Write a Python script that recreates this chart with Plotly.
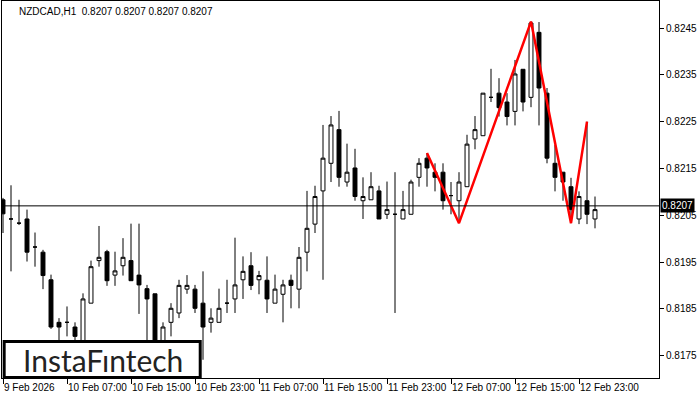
import plotly.graph_objects as go

# ---- data (NZDCAD H1) ----
bar_index = list(range(75))
opens = [0.82083, 0.82042, 0.82033, 0.82042, 0.81982, 0.81971, 0.81912, 0.81821, 0.81821, 0.81811,
         0.81779, 0.81862, 0.81953, 0.81972, 0.81922, 0.81942, 0.81953, 0.81922, 0.81893, 0.81882,
         0.81766, 0.81821, 0.81841, 0.81892, 0.81892, 0.81862, 0.81821, 0.81821, 0.81862, 0.81871,
         0.81912, 0.81942, 0.81912, 0.81911, 0.81862, 0.81881, 0.81911, 0.81892, 0.81971, 0.82031,
         0.82102, 0.82161, 0.82233, 0.82121, 0.82151, 0.82081, 0.82083, 0.82102, 0.82052, 0.82052,
         0.82042, 0.82052, 0.82131, 0.82172, 0.82142, 0.82142, 0.82092, 0.82081, 0.82111, 0.82213,
         0.82220, 0.82302, 0.82311, 0.82292, 0.82272, 0.82362, 0.82302, 0.82441, 0.82311, 0.82161,
         0.82142, 0.82111, 0.82042, 0.82081, 0.82042]
highs = [0.82087, 0.82114, 0.82083, 0.82062, 0.82013, 0.81976, 0.81923, 0.81830, 0.81855, 0.81821,
         0.81883, 0.81953, 0.82027, 0.81976, 0.81972, 0.82001, 0.82032, 0.82032, 0.81901, 0.81882,
         0.81821, 0.81862, 0.81912, 0.81922, 0.81901, 0.81930, 0.81851, 0.81893, 0.81912, 0.82002,
         0.81962, 0.81971, 0.81931, 0.81962, 0.81923, 0.81912, 0.81923, 0.81982, 0.82102, 0.82113,
         0.82243, 0.82262, 0.82273, 0.82203, 0.82192, 0.82131, 0.82142, 0.82113, 0.82122, 0.82142,
         0.82102, 0.82126, 0.82172, 0.82183, 0.82161, 0.82161, 0.82121, 0.82142, 0.82222, 0.82262,
         0.82311, 0.82363, 0.82343, 0.82311, 0.82382, 0.82362, 0.82464, 0.82463, 0.82322, 0.82200,
         0.82142, 0.82130, 0.82101, 0.82250, 0.82090]
lows = [0.82012, 0.81930, 0.82029, 0.81951, 0.81940, 0.81892, 0.81807, 0.81773, 0.81791, 0.81762,
        0.81766, 0.81862, 0.81940, 0.81899, 0.81899, 0.81921, 0.81910, 0.81839, 0.81758, 0.81749,
        0.81752, 0.81791, 0.81830, 0.81882, 0.81841, 0.81741, 0.81799, 0.81821, 0.81841, 0.81841,
        0.81871, 0.81890, 0.81881, 0.81841, 0.81862, 0.81821, 0.81851, 0.81851, 0.81930, 0.82012,
        0.81912, 0.82121, 0.82111, 0.82111, 0.82081, 0.82042, 0.82083, 0.82042, 0.82042, 0.81841,
        0.82042, 0.82052, 0.82111, 0.82111, 0.82101, 0.82062, 0.82052, 0.82033, 0.82111, 0.82191,
        0.82220, 0.82292, 0.82261, 0.82242, 0.82242, 0.82272, 0.82281, 0.82242, 0.82161, 0.82101,
        0.82081, 0.82033, 0.82031, 0.82031, 0.82022]
closes = [0.82053, 0.82042, 0.82033, 0.81971, 0.81982, 0.81921, 0.81811, 0.81811, 0.81821, 0.81791,
          0.81871, 0.81940, 0.81960, 0.81910, 0.81931, 0.81960, 0.81910, 0.81901, 0.81871, 0.81762,
          0.81811, 0.81851, 0.81900, 0.81900, 0.81851, 0.81811, 0.81830, 0.81851, 0.81862, 0.81901,
          0.81930, 0.81900, 0.81921, 0.81871, 0.81892, 0.81901, 0.81900, 0.81960, 0.82022, 0.82090,
          0.82172, 0.82243, 0.82131, 0.82142, 0.82090, 0.82090, 0.82111, 0.82042, 0.82062, 0.82052,
          0.82062, 0.82121, 0.82161, 0.82151, 0.82131, 0.82081, 0.82092, 0.82121, 0.82202, 0.82233,
          0.82311, 0.82302, 0.82280, 0.82261, 0.82352, 0.82292, 0.82461, 0.82322, 0.82172, 0.82131,
          0.82121, 0.82062, 0.82090, 0.82052, 0.82062]

tick_positions = [0, 8, 16, 24, 32, 40, 48, 56, 64, 72]
tick_labels = ["9 Feb 2026", "10 Feb 07:00", "10 Feb 15:00", "10 Feb 23:00", "11 Feb 07:00",
               "11 Feb 15:00", "11 Feb 23:00", "12 Feb 07:00", "12 Feb 15:00", "12 Feb 23:00"]
price_ticks = [0.8175, 0.8185, 0.8195, 0.8205, 0.8215, 0.8225, 0.8235, 0.8245]
price_tick_labels = ["0.8175", "0.8185", "0.8195", "0.8205", "0.8215", "0.8225", "0.8235", "0.8245"]

# head & shoulders pattern pivots: (bar index, 'H' for high / 'L' for low)
pattern_bars = [53, 57, 66, 71, 73]
pattern_kind = ["H", "L", "H", "L", "H"]

current_price = 0.8207
title_text = "NZDCAD,H1  0.8207 0.8207 0.8207 0.8207"
logo_text = "InstaF\u0131ntech"

pattern_prices = [highs[b] if k == "H" else lows[b] for b, k in zip(pattern_bars, pattern_kind)]

FONT = "Liberation Sans"

fig = go.Figure()
fig.add_trace(go.Candlestick(
    x=bar_index, open=opens, high=highs, low=lows, close=closes,
    increasing=dict(fillcolor="white", line=dict(color="black", width=1)),
    decreasing=dict(fillcolor="black", line=dict(color="black", width=1)),
    whiskerwidth=0, showlegend=False, hoverinfo="skip",
))
fig.add_trace(go.Scatter(
    x=pattern_bars, y=pattern_prices, mode="lines",
    line=dict(color="#ff0000", width=2.5), showlegend=False, hoverinfo="skip",
))

fig.add_shape(type="line", xref="paper", x0=0, x1=1, yref="y", y0=current_price, y1=current_price,
              line=dict(color="black", width=1), layer="above")

# logo box
fig.add_shape(type="rect", xref="paper", yref="paper", x0=0.0033, x1=0.3017, y0=0.0013, y1=0.0968,
              line=dict(color="black", width=3), fillcolor="white", layer="above")
fig.add_annotation(xref="paper", yref="paper", x=0.153, y=0.047, text=logo_text, showarrow=False,
                   font=dict(family="Lato", size=30, color="#222222"), xanchor="center", yanchor="middle")

# title
fig.add_annotation(xref="paper", yref="paper", x=0.0228, y=0.973, text=title_text, showarrow=False,
                   font=dict(family=FONT, size=10, color="black"), xanchor="left", yanchor="middle")

# current price label
fig.add_annotation(xref="paper", yref="y", x=1, y=current_price, text=str(current_price), showarrow=False,
                   xanchor="left", yanchor="middle", xshift=1, bgcolor="black", borderpad=1,
                   font=dict(family=FONT, size=10, color="white"))

fig.update_layout(
    width=700, height=400,
    margin=dict(l=2, r=41, t=1, b=22, autoexpand=False),
    paper_bgcolor="white", plot_bgcolor="white",
    showlegend=False,
    xaxis=dict(
        range=[-0.125, 82.0], rangeslider=dict(visible=False),
        tickmode="array", tickvals=tick_positions, ticktext=tick_labels,
        ticks="outside", ticklen=5, tickcolor="black", tickwidth=1,
        ticklabelposition="outside right", tickangle=0, automargin=False,
        showline=True, linecolor="black", linewidth=1, mirror=True,
        showgrid=False, zeroline=False,
        tickfont=dict(family=FONT, size=10, color="black"),
    ),
    yaxis=dict(
        range=[0.81702, 0.82508], side="right", automargin=False,
        tickmode="array", tickvals=price_ticks, ticktext=price_tick_labels,
        ticks="outside", ticklen=4, tickcolor="black", tickwidth=1,
        showline=True, linecolor="black", linewidth=1, mirror=True,
        showgrid=False, zeroline=False,
        tickfont=dict(family=FONT, size=10, color="black"),
    ),
)

fig.write_html("out.html", config={"displayModeBar": False},
               post_script="document.body.style.margin='0px';")
